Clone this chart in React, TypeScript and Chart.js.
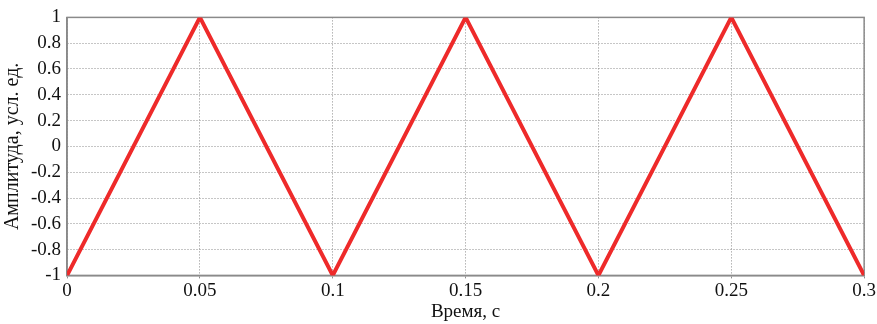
import React, { useEffect, useRef } from "react";
import { Chart, registerables } from "chart.js";

Chart.register(...registerables);

const timeValues = [0, 0.05, 0.1, 0.15, 0.2, 0.25, 0.3];
const amplitudeValues = [-1, 1, -1, 1, -1, 1, -1];
const xTitle = "Время, с";
const yTitle = "Амплитуда, усл. ед.";

const FONT = "'Liberation Serif', 'Times New Roman', serif";

const boxPlugin = {
  id: "box",
  beforeDatasetsDraw(chart: any) {
    const { ctx, chartArea } = chart;
    ctx.save();
    ctx.strokeStyle = "#8a8a8a";
    ctx.lineWidth = 1.5;
    ctx.strokeRect(chartArea.left, chartArea.top, chartArea.right - chartArea.left, chartArea.bottom - chartArea.top);
    ctx.restore();
  },
};

export default function App() {
  const ref = useRef<HTMLCanvasElement>(null);
  useEffect(() => {
    document.body.style.margin = "0";
    const chart = new Chart(ref.current!, {
      type: "line",
      data: {
        datasets: [
          {
            data: timeValues.map((t, i) => ({ x: t, y: amplitudeValues[i] })),
            borderColor: "#ee2a2a",
            borderWidth: 4,
            pointRadius: 0,
            tension: 0,
            fill: false,
          },
        ],
      },
      options: {
        animation: false,
        responsive: false,
        maintainAspectRatio: false,
        layout: { padding: { top: 17, right: 12, bottom: 1, left: 1 } },
        plugins: { legend: { display: false }, tooltip: { enabled: false } },
        scales: {
          x: {
            type: "linear",
            min: 0,
            max: 0.3,
            ticks: {
              stepSize: 0.05,
              color: "#111",
              font: { family: FONT, size: 19 },
              padding: 1,
              maxRotation: 0,
              callback: (v: any) => String(Number(Number(v).toFixed(2))),
            },
            grid: { color: "#8c8c8c", lineWidth: 1, tickLength: 3, drawTicks: true },
            border: { display: true, color: "#8a8a8a", width: 1.5, dash: [1, 2] },
            title: { display: true, text: xTitle, color: "#111", font: { family: FONT, size: 19 }, padding: { top: -3, bottom: 0 } },
          },
          y: {
            type: "linear",
            min: -1,
            max: 1,
            ticks: {
              stepSize: 0.2,
              color: "#111",
              font: { family: FONT, size: 19 },
              padding: 6,
              callback: (v: any) => String(Number(Number(v).toFixed(2))),
            },
            grid: { color: "#8c8c8c", lineWidth: 1, drawTicks: false },
            border: { display: true, color: "#8a8a8a", width: 1.5, dash: [1, 2] },
            title: { display: true, text: yTitle, color: "#111", font: { family: FONT, size: 20 }, padding: { top: 0, bottom: 0 } },
          },
        },
      },
      plugins: [boxPlugin],
    });
    return () => chart.destroy();
  }, []);
  return (
    <div style={{ position: "absolute", left: 0, top: 0, width: 877, height: 324, background: "#fff" }}>
      <canvas ref={ref} width={877} height={324} />
    </div>
  );
}
